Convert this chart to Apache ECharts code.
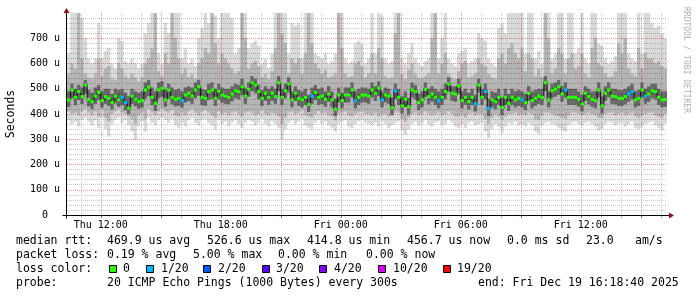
<!DOCTYPE html>
<html><head><meta charset="utf-8">
<script src="https://cdn.jsdelivr.net/npm/echarts@6/dist/echarts.min.js"></script>
<style>html,body{margin:0;padding:0;background:#fff}#c{width:697px;height:297px}</style>
</head><body><div id="c"></div>
<script>
// ---- time range (UTC) ----
const START = Date.UTC(2025, 11, 18, 10, 18, 40);
const END = Date.UTC(2025, 11, 19, 16, 18, 40);
const STEP = 600000; // one column = 10 min

// ---- median rtt per column (microseconds) ----
const median = [
 456,495,466,489,469,515,458,449,471,486, 453,469,462,445,471,456,466,445,423,471,
 458,449,453,495,506,466,442,495,502,456, 495,466,458,462,453,475,482,471,495,508,
 466,462,489,495,462,491,
 475,471,466,479,492,489,508,471,498,524, 515,489,462,482,466,482,469,524,466,492,
 519,456,482,462,456,466,438,471,485,466, 471,458,479,456,419,475,453,475,475,495,
 453,466,475,475,471,
 495,482,502,456,475,471,425,492,466,432, 458,429,495,489,445,456,498,469,479,466,
 453,466,489,519,482,479,511,453,466,449, 466,440,515,466,489,423,456,449,466,426,
 466,442,466,456,462,
 456,445,482,453,462,471,466,524,456,492, 498,508,479,495,466,466,466,458,440,482,
 469,458,453,495,432,482,495,471,469,462, 462,469,479,489,456,462,495,471,479,492,
 489,466,456,457
];
// ---- lost pings (of 20) per column ----
const lossCount = [
 0,0,0,0,0,0,0,0,0,0,0,0,0,0,0,0,1,1,0,0,
 0,0,0,0,0,0,0,0,0,0,0,0,0,0,1,0,0,0,0,0,
 0,0,0,0,0,0,0,0,0,0,0,0,0,0,0,0,0,0,0,0,
 0,0,0,0,0,0,0,0,0,0,0,0,0,1,0,0,0,0,0,0,
 0,0,0,0,0,0,1,0,0,0,0,0,0,0,1,0,0,0,1,0,
 0,0,0,0,0,0,0,0,0,0,0,1,0,0,0,0,0,0,0,0,
 0,0,1,0,0,1,1,0,0,0,0,0,0,0,0,0,1,0,0,0,
 0,0,0,0,0,0,0,0,0,1,0,0,0,0,0,0,0,0,0,0,
 0,0,0,0,0,0,0,0,1,1,0,0,0,1,0,0,0,0,0,0
];
// ---- smoke: fastest / slowest ping per column ----
const smokeLo = [
 375,360,370,350,375,385,370,355,375,345, 385,340,310,360,375,385,365,375,355,330,
 297,350,370,330,385,365,355,375,385,375, 365,380,355,345,365,350,375,385,365,355,
 375,380,365,355,340,375,
 360,370,350,365,375,360,345,365,375,370, 355,365,380,360,350,370,360,345,297,340,
 365,375,360,370,380,355,345,340,365,375, 360,370,355,345,330,360,370,375,350,345,
 360,370,375,365,360,
 355,365,350,370,360,345,355,365,370,335, 317,340,360,370,355,365,375,360,350,365,
 370,355,360,375,365,350,345,360,345,365, 370,355,360,365,330,304,340,360,350,325,
 350,365,360,370,355,
 360,350,365,355,330,320,355,365,370,360, 355,345,335,330,355,365,370,360,355,365,
 370,360,350,335,340,360,370,365,355,360, 365,350,360,370,345,340,350,360,365,370,
 355,345,335,360
];
const smokeHi = [
 640,800,800,800,780,700,620,600,620,760, 620,650,660,600,580,700,690,610,600,620,
 600,580,600,720,760,800,800,640,600,760, 720,800,800,800,620,660,600,620,590,700,
 740,800,760,800,790,700,
 800,800,800,780,640,660,800,800,660,680, 690,670,600,620,580,640,800,800,800,800,
 640,760,750,760,620,800,800,800,640,630, 620,640,600,610,640,800,800,620,600,610,
 680,690,680,600,620,
 800,640,800,790,620,600,610,800,800,620, 600,640,680,620,600,590,610,620,800,800,
 620,700,800,620,600,590,640,650,660,600, 610,620,720,700,690,620,600,590,740,760,
 720,800,800,800,800,
 800,640,800,800,620,650,600,800,800,620, 640,800,800,620,800,800,640,660,800,620,
 600,800,800,680,670,620,600,610,630,800, 800,800,640,620,610,800,640,800,800,760,
 740,750,720,700
];
// ---- smoke: middle pings (mid grey band) ----
const midLo = [
 410,400,405,395,410,420,405,395,410,390, 415,385,370,400,410,420,405,400,390,380,
 360,395,405,380,420,405,395,410,420,410, 405,415,395,390,405,395,410,420,405,395,
 410,415,405,395,385,410,
 400,405,395,405,410,400,390,405,410,405, 395,400,415,400,395,405,400,390,360,385,
 405,410,400,405,415,395,390,385,400,410, 400,405,395,390,375,400,405,410,395,390,
 400,405,410,400,400,
 395,405,390,400,400,390,395,405,405,380, 370,385,400,405,395,400,410,400,395,400,
 405,395,400,410,400,390,390,400,385,400, 405,395,400,400,380,360,385,400,390,375,
 390,400,400,405,395,
 400,395,405,400,380,375,395,405,405,400, 395,390,385,380,395,405,405,400,395,400,
 405,400,395,385,385,400,405,405,395,400, 405,395,400,405,390,385,395,400,405,405,
 395,390,385,400
];
const midHi = [
 560,600,580,800,620,560,545,540,560,620, 550,580,590,540,535,600,580,550,540,560,
 545,530,545,600,620,660,800,570,550,640, 600,800,700,620,560,580,545,560,540,600,
 620,660,640,800,680,600,
 640,620,600,580,560,570,800,700,580,600, 610,590,545,560,540,570,660,800,720,680,
 560,620,600,620,560,640,800,680,600,580, 560,575,545,550,560,800,660,560,545,550,
 600,610,590,545,560,
 640,560,660,620,550,540,545,720,800,560, 540,575,600,560,545,540,550,560,700,800,
 560,600,640,560,545,540,570,600,610,545, 550,560,620,600,590,560,545,540,620,640,
 600,660,680,640,620,
 660,570,640,620,550,580,545,800,700,560, 580,660,640,560,620,640,580,590,640,560,
 545,660,700,600,590,560,545,550,570,680, 640,700,580,560,550,660,580,640,620,620,
 600,610,590,580
];
// ---- smoke: pings closest to the median (dark band) ----
const darkLo = [
 428,462,435,455,440,480,430,420,440,455, 425,440,432,418,442,428,435,415,400,440,
 430,420,425,460,470,435,412,462,468,428, 460,438,430,432,425,445,450,440,462,472,
 435,432,455,460,432,458,
 445,440,438,450,462,458,475,440,468,490, 482,458,432,452,436,452,440,490,436,462,
 485,426,452,432,426,436,408,440,455,436, 440,428,448,426,392,445,422,445,445,465,
 422,436,445,445,440,
 465,452,470,426,445,440,395,460,436,402, 428,398,465,458,415,426,468,438,448,436,
 422,436,458,488,452,448,480,422,436,418, 436,410,485,436,458,392,426,418,436,396,
 436,412,436,426,432,
 426,415,452,422,432,440,436,490,426,462, 468,476,448,465,436,436,436,428,410,452,
 438,428,422,465,402,452,465,440,438,432, 432,438,448,458,426,432,465,440,448,462,
 458,436,426,428
];
const darkHi = [
 490,520,500,515,505,535,495,485,505,515, 490,500,500,480,500,495,500,485,470,500,
 490,485,490,525,535,505,490,525,530,495, 520,505,495,500,490,505,510,505,525,535,
 500,495,520,525,500,520,
 505,500,500,510,520,515,540,500,525,550, 540,515,495,510,500,510,500,550,500,520,
 545,490,510,495,490,500,475,505,515,500, 505,490,510,490,460,505,485,505,505,525,
 490,500,505,505,500,
 525,510,530,490,505,500,465,520,500,470, 490,465,525,515,480,490,525,500,510,500,
 490,500,520,545,510,510,540,490,500,485, 500,475,540,500,520,460,490,485,500,465,
 500,480,500,490,495,
 490,480,510,490,495,500,500,550,490,520, 525,535,510,525,500,500,500,490,475,510,
 500,490,490,525,470,510,525,500,500,495, 495,500,510,520,490,495,525,500,510,520,
 520,500,490,490
];

// ---- axis ticks / labels ----
const yMax = 800;
const yInterval = 100;
const xTickLabels = ['Thu 12:00', 'Thu 18:00', 'Fri 00:00', 'Fri 06:00', 'Fri 12:00'];
const xTickTimes = ['2025-12-18T12:00:00Z', '2025-12-18T18:00:00Z', '2025-12-19T00:00:00Z', '2025-12-19T06:00:00Z', '2025-12-19T12:00:00Z'];
const gridFirstHour = '2025-12-18T11:00:00Z';
const gridLastHour = '2025-12-19T16:00:00Z';

// ---- legend texts ----
const lossLabels = ['0', '1/20', '2/20', '3/20', '4/20', '10/20', '19/20'];
const lossColors = ['#26ff00', '#00b8ff', '#0059ff', '#5e00ff', '#7e00ff', '#dd00ff', '#ff0000'];
const statLine1 = [['median rtt:', 16], ['469.9 us avg', 107], ['526.6 us max', 207], ['414.8 us min', 307], ['456.7 us now', 407], ['0.0 ms sd', 507], ['23.0', 586], ['am/s', 635]];
const statLine2 = [['packet loss:', 16], ['0.19 % avg', 107], ['5.00 % max', 193], ['0.00 % min', 278], ['0.00 % now', 366]];
const lossBoxX = [109, 146, 203, 262, 319, 378, 443];
const lossTextX = [123, 161, 218, 276, 334, 393, 457];
const probeText = '20 ICMP Echo Pings (1000 Bytes) every 300s';
const endText = 'end: Fri Dec 19 16:18:40 2025';

const MONO = '"DejaVu Sans Mono", monospace';

function lossColor(n) {
  if (n <= 4) return lossColors[n];
  if (n <= 10) return lossColors[5];
  return lossColors[6];
}

const smokeData = median.map((m, i) => [START + (i + 0.5) * STEP, smokeLo[i], smokeHi[i], midLo[i], midHi[i], darkLo[i], darkHi[i], m, i > 0 ? median[i - 1] : m]);
const medData = median.map((m, i) => [START + (i + 0.5) * STEP, m, lossCount[i]]);

const gridData = [];
for (let t = Date.parse(gridFirstHour); t <= Date.parse(gridLastHour); t += 3600000) {
  gridData.push([t, (new Date(t).getUTCHours() % 3 === 0) ? 1 : 0]);
}
const labelData = xTickTimes.map(s => [Date.parse(s), 0]);

function colBounds(api) {
  const t = api.value(0);
  const xa = api.coord([t - STEP / 2, 0])[0];
  const xb = api.coord([t + STEP / 2, 0])[0];
  return [xa, xb - xa];
}

// translucent smoke so the grid underneath shows through the light parts
function renderSmoke(params, api) {
  const [xa, w] = colBounds(api);
  const t = api.value(0);
  const Y = k => api.coord([t, api.value(k)])[1];
  const band = (k1, k2, fill) => ({ type: 'rect', shape: { x: xa, y: Y(k2), width: w, height: Y(k1) - Y(k2) }, style: { fill } });
  const ym = Y(7), yp = Y(8);
  return { type: 'group', children: [
    band(1, 2, 'rgba(0,0,0,0.15)'),
    band(3, 4, 'rgba(0,0,0,0.17)'),
    band(5, 6, 'rgba(0,0,0,0.42)'),
    { type: 'rect', shape: { x: xa - 0.4, y: Math.min(ym, yp) - 1, width: 1.2, height: Math.abs(ym - yp) + 2 }, style: { fill: 'rgba(0,0,0,0.75)' } }
  ] };
}

function renderMedian(params, api) {
  const [xa, w] = colBounds(api);
  const p = api.coord([api.value(0), api.value(1)]);
  return { type: 'rect', shape: { x: xa, y: p[1] - 1.5, width: w + 0.35, height: 3 }, style: { fill: lossColor(api.value(2)) } };
}

function renderGrid(params, api) {
  const t = api.value(0), major = api.value(1);
  const p0 = api.coord([t, 0]), p1 = api.coord([t, yMax]);
  const x = Math.round(p0[0]) + 0.5;
  return { type: 'group', children: [
    { type: 'line', shape: { x1: x, y1: p1[1], x2: x, y2: p0[1] }, style: { stroke: major ? '#e39a9a' : '#c8c8c8', lineWidth: 1, lineDash: [1, 1] } },
    { type: 'line', shape: { x1: x, y1: p0[1] + 1, x2: x, y2: p0[1] + 3 }, style: { stroke: major ? '#d05050' : '#bbbbbb', lineWidth: 1 } }
  ] };
}

function renderLabel(params, api) {
  const p = api.coord([api.value(0), 0]);
  return { type: 'text', x: p[0], y: p[1] + 10, style: { text: xTickLabels[params.dataIndex], font: '10px ' + MONO, fill: '#000', align: 'center', verticalAlign: 'middle' } };
}

const chart = echarts.init(document.getElementById('c'), null, { renderer: 'canvas' });
chart.setOption({
  animation: false,
  backgroundColor: '#ffffff',
  grid: { left: 67, right: 30, top: 13, bottom: 82, containLabel: false },
  xAxis: { type: 'value', min: START, max: END, axisLine: { show: false }, axisTick: { show: false }, axisLabel: { show: false }, splitLine: { show: false } },
  yAxis: {
    type: 'value', min: 0, max: yMax, interval: yInterval, z: 0,
    axisLine: { show: false }, axisTick: { show: false },
    axisLabel: { color: '#000', fontFamily: MONO, fontSize: 10, margin: 7, showMaxLabel: false,
      formatter: v => v === 0 ? '0  ' : (v + ' u') },
    splitLine: { show: true, showMaxLine: false, lineStyle: { color: '#e39a9a', width: 1, type: [1, 1] } },
    minorTick: { show: false, splitNumber: 5 },
    minorSplitLine: { show: true, lineStyle: { color: '#c8c8c8', width: 1, type: [1, 1] } }
  },
  series: [
    { type: 'custom', name: 'grid', data: gridData, renderItem: renderGrid, encode: { x: 0, y: 1 }, clip: false, z: 1, silent: true },
    { type: 'custom', name: 'smoke', data: smokeData, renderItem: renderSmoke, encode: { x: 0, y: [1, 2] }, clip: true, z: 2, silent: true },
    { type: 'custom', name: 'median', data: medData, renderItem: renderMedian, encode: { x: 0, y: 1 }, clip: true, z: 4, silent: true },
    { type: 'custom', name: 'xlabels', data: labelData, renderItem: renderLabel, encode: { x: 0, y: 1 }, clip: false, z: 4, silent: true }
  ]
});

// axes, arrows and legend texts
const o = chart.convertToPixel({ gridIndex: 0 }, [START, 0]);
const e = chart.convertToPixel({ gridIndex: 0 }, [END, yMax]);
const ax = Math.round(o[0]) - 0.5, ay = Math.round(o[1]) + 0.5;
const g = [];
g.push({ type: 'line', shape: { x1: ax - 4, y1: ay, x2: e[0] + 3, y2: ay }, style: { stroke: '#000', lineWidth: 1 }, z: 10 });
g.push({ type: 'line', shape: { x1: ax, y1: ay + 3, x2: ax, y2: e[1] - 1 }, style: { stroke: '#000', lineWidth: 1 }, z: 10 });
g.push({ type: 'polygon', shape: { points: [[e[0] + 2, ay - 3], [e[0] + 7, ay], [e[0] + 2, ay + 3]] }, style: { fill: '#8b1010' }, z: 10 });
g.push({ type: 'polygon', shape: { points: [[ax - 3, e[1]], [ax, e[1] - 5], [ax + 3, e[1]]] }, style: { fill: '#8b1010' }, z: 10 });
const txt = (s, x, y, extra) => Object.assign({ type: 'text', x, y, z: 10, style: { text: s, font: '11.5px ' + MONO, fill: '#000', align: 'left', verticalAlign: 'middle' } }, extra || {});
statLine1.forEach(([s, x]) => g.push(txt(s, x, 241.5)));
statLine2.forEach(([s, x]) => g.push(txt(s, x, 255.5)));
g.push(txt('loss color:', 16, 269.5));
lossLabels.forEach((s, i) => {
  g.push({ type: 'rect', z: 10, shape: { x: lossBoxX[i] + 0.5, y: 265.5, width: 7, height: 7 }, style: { fill: lossColors[i], stroke: '#000', lineWidth: 1 } });
  g.push(txt(s, lossTextX[i], 269.5));
});
g.push(txt('probe:', 16, 283.5));
g.push(txt(probeText, 107, 283.5));
g.push(txt(endText, 478, 283.5));
g.push({ type: 'text', x: 11, y: 114, rotation: Math.PI / 2, z: 10, style: { text: 'Seconds', font: '11.5px ' + MONO, fill: '#000', align: 'center', verticalAlign: 'middle' } });
g.push({ type: 'text', x: 686.5, y: 60, rotation: -Math.PI / 2, z: 10, style: { text: 'RRDTOOL / TOBI OETIKER', font: '8px ' + MONO, fill: '#b0b0b0', align: 'center', verticalAlign: 'middle' } });
chart.setOption({ graphic: g });
</script>
</body></html>
